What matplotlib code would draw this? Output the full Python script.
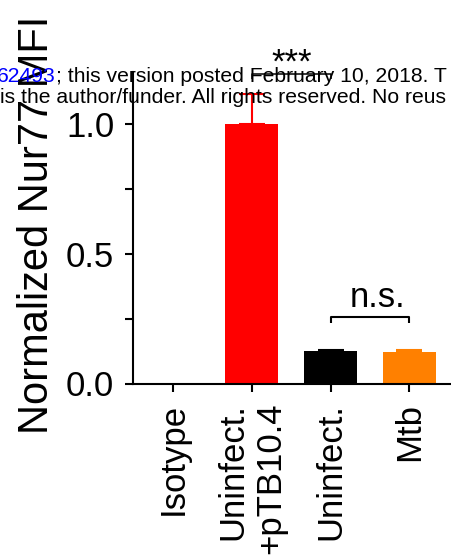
import matplotlib
matplotlib.use("Agg")
import matplotlib.pyplot as plt

plt.rcParams['font.family'] = ['Liberation Sans', 'DejaVu Sans']

# Data
categories = ["Isotype", "Uninfect.\n+pTB10.4", "Uninfect.", "Mtb"]
values = [0.0, 1.0, 0.125, 0.121]
errors_upper = [0.0, 0.118, 0.004, 0.009]
bar_colors = ["#FFFFFF", "#FF0000", "#000000", "#FF8000"]
y_ticks = [0.0, 0.5, 1.0]
y_tick_labels = ["0.0", "0.5", "1.0"]
y_minor_ticks = [0.25, 0.75]
sig_main = "***"
sig_ns = "n.s."

W, H = 451, 557
fig = plt.figure(figsize=(W / 100, H / 100), dpi=100)
ax = fig.add_axes([133 / W, (H - 383.5) / H, (W - 133) / W, 311 / H])

x = list(range(len(categories)))
bw = 0.675
lw = 1.5

for xi, v, e, c in zip(x, values, errors_upper, bar_colors):
    if v > 0:
        ax.bar(xi, v, width=bw, color=c, edgecolor='none', zorder=2)
        ax.errorbar(xi, v, yerr=[[0], [e]], fmt='none', ecolor=c,
                    elinewidth=lw, capsize=9.4, capthick=lw, zorder=3)

ax.set_xlim(-0.507, 3.527)
ax.set_ylim(0, 1.2)

ax.set_yticks(y_ticks)
ax.set_yticklabels(y_tick_labels)
ax.set_yticks(y_minor_ticks, minor=True)
ax.set_xticks(x)
ax.set_xticklabels(categories, rotation=90, multialignment='right')

ax.tick_params(axis='both', which='both', direction='out', length=6,
               width=lw, labelsize=25, color='black')
ax.tick_params(axis='y', which='major', pad=7.5)
ax.tick_params(axis='x', which='major', pad=8)

for s in ['top', 'right']:
    ax.spines[s].set_visible(False)
for s in ['left', 'bottom']:
    ax.spines[s].set_linewidth(lw)

# significance brackets
def bracket(x1, x2, y, drop, text, tx, ty, lwid):
    ax.plot([x1, x1, x2, x2], [y - drop, y, y, y - drop], color='black',
            lw=lwid, clip_on=False, zorder=4, solid_capstyle='butt')
    ax.text(tx, ty, text, ha='center', va='baseline', fontsize=25,
            clip_on=False)

bracket(1, 2, 1.195, 0.02, sig_main, 1.5, 1.2, 1.1)
bracket(2, 3, 0.256, 0.023, sig_ns, 2.59, 0.295, 1.5)

fig.text(48 / W, 1 - 225 / H, "Normalized Nur77 MFI", rotation=90,
         rotation_mode='anchor', ha='center', va='baseline', fontsize=30)

# preprint notice lines
wm_size = 15.2
t1 = fig.text(-3 / W, 1 - 82 / H, "62493", color='#0000FF',
              fontsize=wm_size, va='baseline', ha='left')
fig.canvas.draw()
bb = t1.get_window_extent()
fig.text(bb.x1 / W, 1 - 82 / H, "; this version posted February 10, 2018. T",
         color='black', fontsize=wm_size, va='baseline', ha='left')
fig.text(0, 1 - 103 / H, "is the author/funder. All rights reserved. No reus",
         color='black', fontsize=wm_size, va='baseline', ha='left')

fig.savefig("out.png", dpi=100)
